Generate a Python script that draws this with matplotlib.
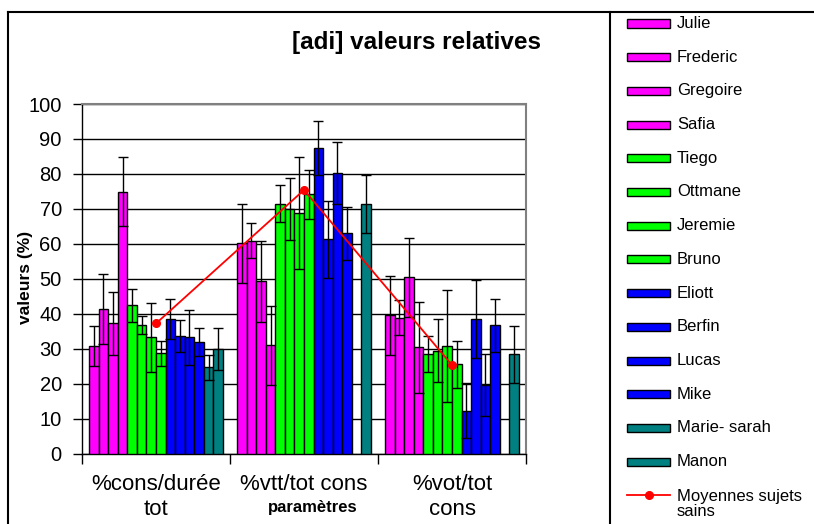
import numpy as np
import matplotlib
matplotlib.use("Agg")
import matplotlib.pyplot as plt
from matplotlib.patches import Rectangle
from matplotlib.lines import Line2D

categories = ["%cons/durée\ntot", "%vtt/tot cons", "%vot/tot\ncons"]
subjects = ["Julie", "Frederic", "Gregoire", "Safia", "Tiego", "Ottmane", "Jeremie",
            "Bruno", "Eliott", "Berfin", "Lucas", "Mike", "Marie- sarah", "Manon"]
colors = ["#FF00FF"] * 4 + ["#00FF00"] * 4 + ["#0000FF"] * 4 + ["#008080"] * 2

# values per subject: [cons/durée, vtt/tot, vot/tot]
values = {
    "Julie":        [30.8, 60.1, 39.5],
    "Frederic":     [41.3, 60.9, 38.9],
    "Gregoire":     [37.2, 49.3, 50.4],
    "Safia":        [74.9, 31.0, 30.4],
    "Tiego":        [42.4, 71.4, 28.4],
    "Ottmane":      [36.7, 70.0, 29.4],
    "Jeremie":      [33.2, 68.9, 30.8],
    "Bruno":        [28.7, 74.2, 25.5],
    "Eliott":       [38.4, 87.4, 12.3],
    "Berfin":       [33.6, 61.3, 38.4],
    "Lucas":        [33.2, 80.2, 19.6],
    "Mike":         [31.9, 63.0, 36.7],
    "Marie- sarah": [24.7, np.nan, np.nan],
    "Manon":        [30.0, 71.4, 28.4],
}
errors = {
    "Julie":        [5.7, 11.3, 11.2],
    "Frederic":     [10.0, 5.0, 5.1],
    "Gregoire":     [9.0, 11.6, 11.4],
    "Safia":        [9.8, 11.3, 13.0],
    "Tiego":        [4.8, 5.3, 5.2],
    "Ottmane":      [2.6, 8.9, 9.0],
    "Jeremie":      [10.0, 16.0, 16.0],
    "Bruno":        [3.6, 7.0, 6.8],
    "Eliott":       [5.7, 7.7, 7.8],
    "Berfin":       [4.7, 11.0, 11.1],
    "Lucas":        [8.0, 8.8, 8.8],
    "Mike":         [4.0, 7.5, 7.6],
    "Marie- sarah": [3.6, np.nan, np.nan],
    "Manon":        [6.0, 8.3, 8.2],
}
means_label = "Moyennes sujets\nsains"
means = [37.2, 75.4, 25.3]

W, H = 814, 524
fig = plt.figure(figsize=(W / 100, H / 100), dpi=100)
plt.rcParams['font.family'] = ['Liberation Sans', 'DejaVu Sans']

def fx(px):
    return px / W

def fy(py):
    return 1 - py / H

ax = fig.add_axes([fx(82), fy(453.5), fx(526) - fx(82), fy(104) - fy(453.5)])
n = len(subjects)
w = 1 / (n + 1.5)
x = np.arange(len(categories))
for i, s in enumerate(subjects):
    pos = x + (i - (n - 1) / 2) * w
    ax.bar(pos, values[s], width=w, color=colors[i], edgecolor="black",
           linewidth=1, zorder=3)
    ax.errorbar(pos, values[s], yerr=errors[s], fmt="none", ecolor="black",
                elinewidth=1, capsize=3.6, capthick=1, zorder=4)

ax.plot(x, means, color="red", linewidth=1.3, marker="o", markersize=5.5, zorder=5)

ax.set_xlim(-0.5, len(categories) - 0.5)
ax.set_ylim(0, 100)
ax.set_yticks(np.arange(0, 101, 10))
ax.yaxis.grid(True, color="black", linewidth=1, zorder=0)
ax.set_axisbelow(True)
ax.tick_params(axis="y", direction="out", length=6.5, width=1, labelsize=14.5, pad=8)
ax.set_xticks(x)
ax.set_xticklabels(categories, fontsize=16, linespacing=1.25)
ax.tick_params(axis="x", length=0, pad=15)
ax.set_xticks(np.arange(-0.5, len(categories), 1), minor=True)
ax.tick_params(axis="x", which="minor", direction="out", length=7, width=1)
for sp in ["top", "right"]:
    ax.spines[sp].set_color("#808080")
    ax.spines[sp].set_linewidth(1.5)
for sp in ["left", "bottom"]:
    ax.spines[sp].set_color("black")
    ax.spines[sp].set_linewidth(1)

ax.set_ylabel("valeurs (%)", fontsize=12.5, fontweight="bold")
ax.yaxis.set_label_coords(fx(33 - 82) / (fx(526) - fx(82)), (fy(277) - fy(453.5)) / (fy(104) - fy(453.5)))

fig.text(fx(416.5), fy(42), "[adi] valeurs relatives", fontsize=17.5, fontweight="bold",
         ha="center", va="center")
fig.text(fx(313), fy(512), "paramètres", fontsize=12, fontweight="bold",
         ha="center", va="baseline")

# outer frame and legend box
fig.add_artist(Line2D([fx(8), 1], [fy(12), fy(12)], color="black", linewidth=1.5))
fig.add_artist(Line2D([fx(8), fx(8)], [fy(12), 0], color="black", linewidth=1.5))
fig.add_artist(Line2D([fx(610), fx(610)], [fy(12), 0], color="black", linewidth=1.5))

# legend
row0, step = 23.5, 33.7
for i, s in enumerate(subjects):
    yc = row0 + i * step
    fig.add_artist(Rectangle((fx(627), fy(yc + 4)), fx(670) - fx(627), fy(yc - 4) - fy(yc + 4),
                             facecolor=colors[i], edgecolor="black", linewidth=1))
    fig.text(fx(677), fy(yc), s, fontsize=12, ha="left", va="center")
yc = row0 + n * step
fig.add_artist(Line2D([fx(627), fx(670)], [fy(yc), fy(yc)], color="red", linewidth=1.3))
fig.add_artist(Line2D([fx(648.5)], [fy(yc)], color="red", marker="o", markersize=5.5))
fig.text(fx(677), fy(yc + 9), means_label, fontsize=12, ha="left", va="center",
         linespacing=1.0)

fig.savefig("out.png", dpi=100)
